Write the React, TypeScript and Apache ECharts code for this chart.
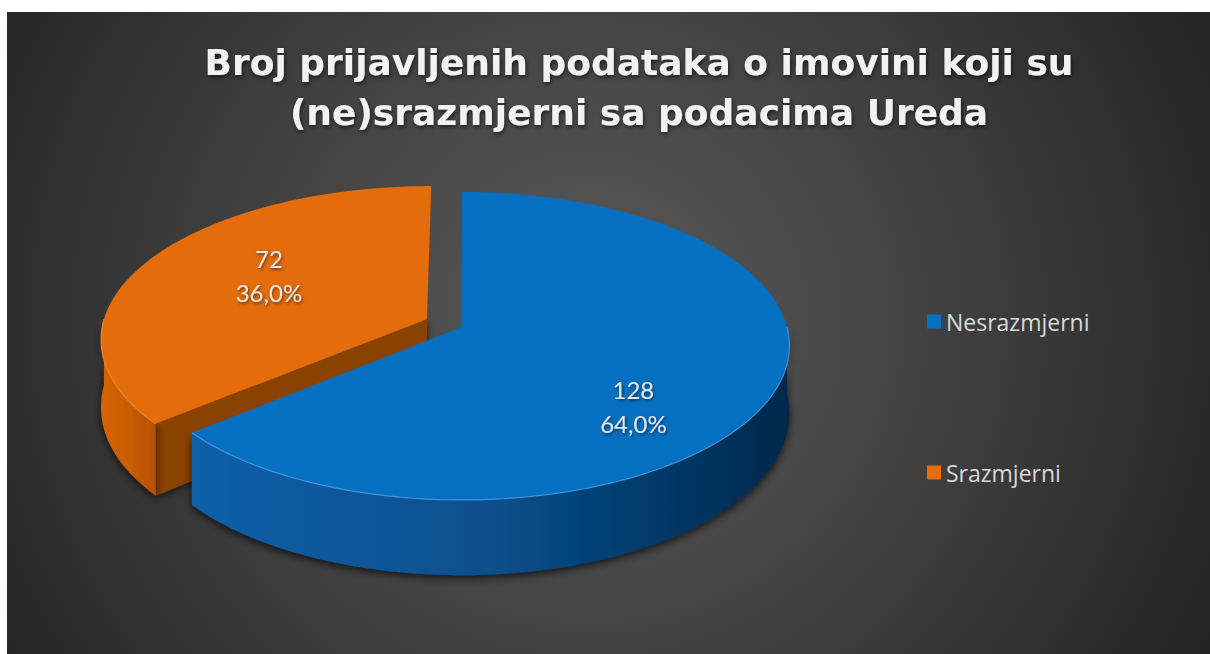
import React, { useEffect, useRef } from "react";
import * as echarts from "echarts";

// ---- data ----
const categories = ["Nesrazmjerni", "Srazmjerni"];
const values = [128, 72];
const titleText = "Broj prijavljenih podataka o imovini koji su\n(ne)srazmjerni sa podacima Ureda";

// ---- styling ----
const topColors = ["#0570C1", "#E46C0A"];
const wallStops = [
  ["#0F60A9", "#084F8C", "#00284B"],
  ["#D86402", "#C95C00", "#B65100"],
];
const faceColors = ["#003A6B", "#8A4204"];
const rimColors = ["rgba(90,170,240,0.7)", "rgba(255,160,70,0.6)"];

// ---- 3D pie layout ----
const CX = 462;
const CY = 327;
const RX = 325;
const RY = 154;
const K = 0.123; // pseudo perspective
const DEPTH = 67;
const EXPLODE = [0, 0.12];
const LABEL_R = 0.55;
const LABEL_SHIFT = [
  [5, 42],
  [-3, -9],
];
const RAD = Math.PI / 180;

function proj(U: number, V: number, h = 0): number[] {
  const p = 1 + K * V;
  return [CX + RX * U * p, CY + RY * V * p + h * p];
}

function fmtPct(v: number, total: number) {
  return ((v / total) * 100).toFixed(1).replace(".", ",") + "%";
}

function makeRenderItem(s: number) {
  return function (params: any, api: any) {
    const total = values.reduce((a, b) => a + b, 0);
    let start = 0;
    for (let i = 0; i < s; i++) start += (values[i] / total) * 360;
    const v = api.value(0);
    const end = start + (v / total) * 360;
    const mid = ((start + end) / 2) * RAD;
    const e = EXPLODE[s];
    const du = e * Math.sin(mid);
    const dv = -e * Math.cos(mid);
    const pt = (deg: number, r = 1, h = 0) =>
      proj(du + r * Math.sin(deg * RAD), dv - r * Math.cos(deg * RAD), h);

    const arc = (a: number, b: number, h: number) => {
      const pts: number[][] = [];
      const n = Math.max(2, Math.ceil(Math.abs(b - a)));
      for (let i = 0; i <= n; i++) pts.push(pt(a + ((b - a) * i) / n, 1, h));
      return pts;
    };

    const children: any[] = [];
    const z0 = s === 0 ? 20 : 0;

    // radial faces
    const faceVisible = (normalDeg: number) => -Math.cos(normalDeg * RAD) > 0.01;
    const addFace = (deg: number) => {
      children.push({
        type: "polygon",
        z2: z0 + 1,
        shape: { points: [pt(0, 0, 0), pt(deg, 1, 0), pt(deg, 1, DEPTH), pt(0, 0, DEPTH)] },
        style: {
          fill: faceColors[s],
          shadowColor: "rgba(0,0,0,0.6)",
          shadowBlur: 8,
          shadowOffsetY: 3,
        },
      });
    };
    if (faceVisible(start - 90)) addFace(start);
    if (faceVisible(end + 90)) addFace(end);

    // outer wall (front half only)
    const a = Math.max(start, 90);
    const b = Math.min(end, 270);
    if (b > a) {
      const topArc = arc(a, b, 0);
      const botArc = arc(a, b, DEPTH).reverse();
      const stops = wallStops[s];
      children.push({
        type: "polygon",
        z2: z0 + 2,
        shape: { points: topArc.concat(botArc) },
        style: {
          fill: new echarts.graphic.LinearGradient(1, 0, 0, 0, [
            { offset: 0, color: stops[2] },
            { offset: 0.5, color: stops[1] },
            { offset: 1, color: stops[0] },
          ]),
          shadowColor: "rgba(0,0,0,0.7)",
          shadowBlur: 8,
          shadowOffsetY: 3,
        },
      });
      children.push({
        type: "polyline",
        z2: z0 + 4,
        shape: { points: topArc },
        style: { stroke: rimColors[s], lineWidth: 1.2, fill: "none" },
      });
    }

    // top face
    const topPts = [pt(0, 0, 0)].concat(arc(start, end, 0));
    children.push({
      type: "polygon",
      z2: z0 + 3,
      shape: { points: topPts },
      style: { fill: topColors[s] },
    });

    // label
    const lp = proj(
      du + LABEL_R * Math.sin(mid),
      dv - LABEL_R * Math.cos(mid),
      0
    );
    children.push({
      type: "text",
      z2: z0 + 5,
      x: lp[0] + LABEL_SHIFT[s][0],
      y: lp[1] + LABEL_SHIFT[s][1],
      style: {
        text: `${v}\n${fmtPct(v, total)}`,
        fill: "#E6E6E6",
        fontSize: 24,
        fontFamily: "Lato",
        align: "center",
        verticalAlign: "middle",
        lineHeight: 34,
        textShadowColor: "rgba(0,0,0,0.55)",
        textShadowBlur: 3,
        textShadowOffsetX: 1,
        textShadowOffsetY: 1.5,
      },
    });

    return { type: "group", children };
  };
}

export default function App() {
  const ref = useRef<HTMLDivElement>(null);
  useEffect(() => {
    document.body.style.margin = "0";
    const chart = echarts.init(ref.current!, undefined, { renderer: "svg" });
    chart.setOption({
      animation: false,
      backgroundColor: "#ffffff",
      title: {
        text: titleText,
        left: 634,
        top: 32,
        textAlign: "center",
        textStyle: {
          color: "#F2F2F2",
          fontSize: 36,
          fontWeight: "bold",
          fontFamily: "DejaVu Sans",
          lineHeight: 50,
          textShadowColor: "rgba(0,0,0,0.6)",
          textShadowBlur: 4,
          textShadowOffsetX: 1,
          textShadowOffsetY: 2,
        },
      },
      legend: {
        orient: "vertical",
        left: 922,
        top: 305,
        itemWidth: 14,
        itemHeight: 14,
        itemGap: 128,
        icon: "rect",
        data: categories,
        textStyle: { color: "#D9D9D9", fontSize: 23, fontFamily: "Open Sans", lineHeight: 20 },
      },
      graphic: [
        {
          type: "rect",
          z: -100,
          silent: true,
          shape: { x: 7, y: 12, width: 1203, height: 642 },
          style: {
            fill: new echarts.graphic.RadialGradient(
              590,
              320,
              700,
              [
                { offset: 0, color: "#5A5A5A" },
                { offset: 0.55, color: "#3E3E3E" },
                { offset: 1, color: "#232323" },
              ],
              true
            ),
          },
        },
      ],
      series: categories.map((name, i) => ({
        type: "custom",
        name,
        coordinateSystem: "none",
        z: i === 0 ? 3 : 2,
        itemStyle: { color: topColors[i] },
        renderItem: makeRenderItem(i),
        data: [[values[i]]],
      })),
    });
    return () => chart.dispose();
  }, []);
  return <div ref={ref} style={{ width: 1210, height: 654 }} />;
}
